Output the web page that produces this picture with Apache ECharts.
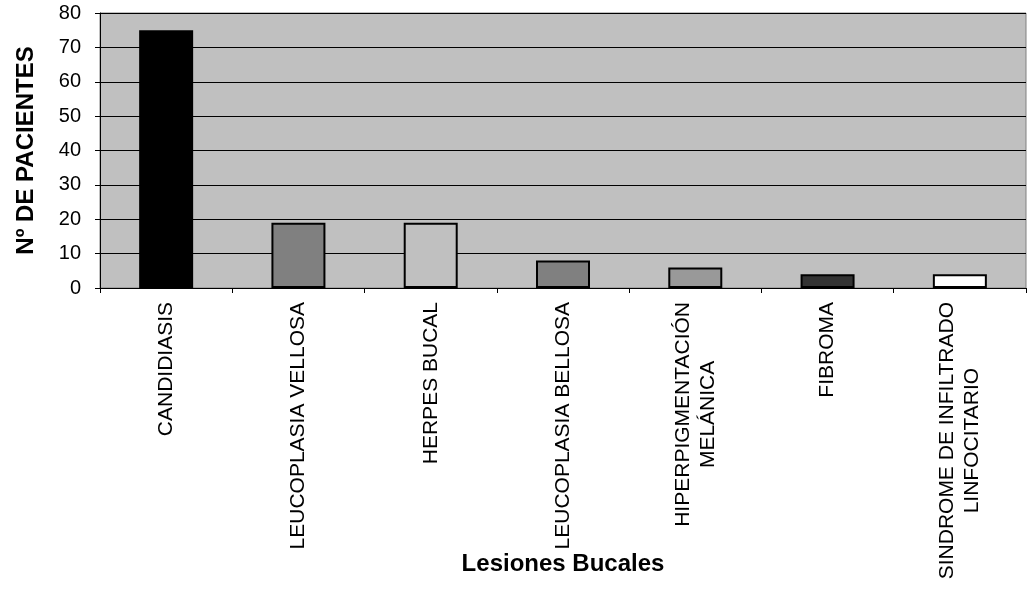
<!DOCTYPE html>
<html>
<head>
    <meta charset="utf-8" />
    <title>Lesiones Bucales</title>
    <script src="https://cdn.jsdelivr.net/npm/echarts@6/dist/echarts.min.js"></script>
    <style>
        html, body { margin: 0; padding: 0; background: #fff; }
    </style>
</head>
<body>
    <div id="main" style="width: 1036px; height: 594px;"></div>
    <script type="text/javascript">
        // categorias y valores
        var categorias = [
            'CANDIDIASIS',
            'LEUCOPLASIA VELLOSA',
            'HERPES BUCAL',
            'LEUCOPLASIA BELLOSA',
            'HIPERPIGMENTACIÓN\nMELÁNICA',
            'FIBROMA',
            'SINDROME DE INFILTRADO\nLINFOCITARIO'
        ];
        var pacientes = [75, 19, 19, 8, 6, 4, 4];
        var colores = ['#000000', '#808080', '#c0c0c0', '#808080', '#999999', '#333333', '#ffffff'];

        var fuente = 'Liberation Sans, Arial, sans-serif';

        var datos = [];
        for (var i = 0; i < pacientes.length; i++) {
            datos.push({ value: pacientes[i], itemStyle: { color: colores[i] } });
        }

        var myChart = echarts.init(document.getElementById('main'));
        var option = {
            backgroundColor: '#ffffff',
            animation: false,
            textStyle: { fontFamily: fuente },
            grid: {
                left: 100,
                right: 10,
                top: 13,
                bottom: 306,
                outerBoundsMode: 'none',
                containLabel: false,
                show: true,
                backgroundColor: '#c0c0c0',
                borderColor: '#808080',
                borderWidth: 1
            },
            xAxis: {
                type: 'category',
                data: categorias,
                name: 'Lesiones Bucales',
                nameLocation: 'middle',
                nameGap: 264,
                nameMoveOverlap: false,
                nameTextStyle: { fontFamily: fuente, fontSize: 24, fontWeight: 'bold', color: '#000' },
                axisLine: { lineStyle: { color: '#000', width: 1 } },
                axisTick: { show: true, length: 5, lineStyle: { color: '#000' } },
                axisLabel: {
                    interval: 0,
                    rotate: 90,
                    margin: 14,
                    color: '#000',
                    fontFamily: fuente,
                    fontSize: 21,
                    lineHeight: 25,
                    formatter: function (v) {
                        return v.split('\n').map(function (s) { return '{c|' + s + '}'; }).join('\n');
                    },
                    rich: {
                        c: { align: 'center', fontFamily: fuente, fontSize: 21, lineHeight: 25, color: '#000' }
                    }
                }
            },
            yAxis: {
                type: 'value',
                min: 0,
                max: 80,
                interval: 10,
                name: 'Nº DE PACIENTES',
                nameLocation: 'middle',
                nameGap: 62,
                nameMoveOverlap: false,
                nameTextStyle: { fontFamily: fuente, fontSize: 24, fontWeight: 'bold', color: '#000' },
                axisLine: { show: true, lineStyle: { color: '#000', width: 1 } },
                axisTick: { show: true, length: 5, lineStyle: { color: '#000' } },
                axisLabel: { color: '#000', fontFamily: fuente, fontSize: 20, margin: 19 },
                splitLine: { show: true, lineStyle: { color: '#000', width: 1 } }
            },
            series: [
                {
                    type: 'bar',
                    barWidth: 54,
                    data: datos,
                    itemStyle: { borderColor: '#000', borderWidth: 2 }
                }
            ]
        };
        myChart.setOption(option);
    </script>
</body>
</html>
